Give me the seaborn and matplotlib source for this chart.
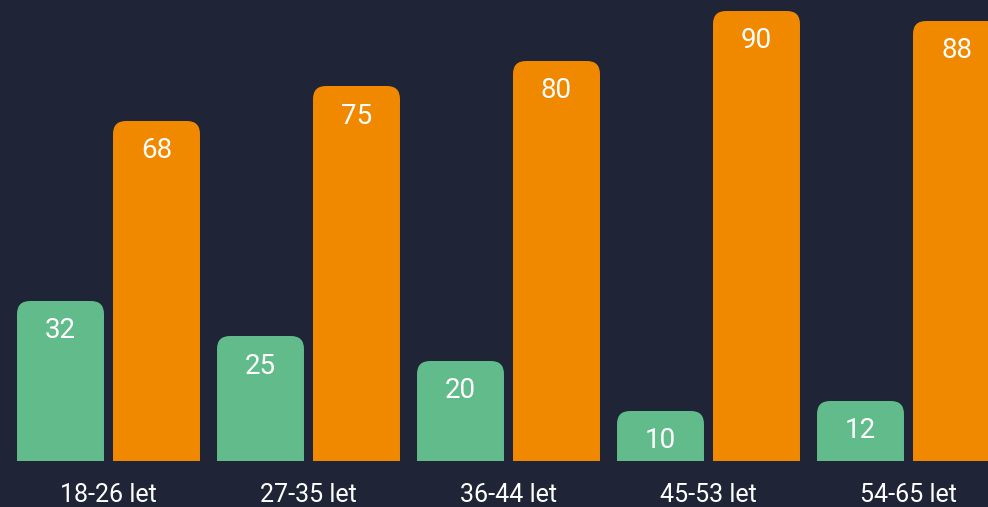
import pandas as pd
import matplotlib.pyplot as plt
from matplotlib.patches import FancyBboxPatch
import seaborn as sns

# data
kategorie = ["18-26 let", "27-35 let", "36-44 let", "45-53 let", "54-65 let"]
serie_a = [32, 25, 20, 10, 12]
serie_b = [68, 75, 80, 90, 88]
barvy = ["#62BB8A", "#F08800"]
pozadi = "#1F2536"

df = pd.DataFrame({
    "Vek": kategorie * 2,
    "Hodnota": serie_a + serie_b,
    "Serie": ["A"] * len(kategorie) + ["B"] * len(kategorie),
})

sns.set_theme(style="dark")
plt.rcParams["font.family"] = ["Roboto", "DejaVu Sans"]

fig = plt.figure(figsize=(9.88, 5.07), dpi=100, facecolor=pozadi)
ax = fig.add_axes([0, 46 / 507, 1, 461 / 507])
ax.set_facecolor(pozadi)

sns.barplot(data=df, x="Vek", y="Hodnota", hue="Serie", palette=barvy,
            saturation=1, width=0.96, gap=0.094, legend=False, ax=ax,
            errorbar=None)

ax.set_ylim(0, 92.2)
ax.set_xlim(-0.5425, 4.3975)

# zaoblene horni rohy
for p in list(ax.patches):
    x, w, h = p.get_x(), p.get_width(), p.get_height()
    c = p.get_facecolor()
    p.remove()
    box = FancyBboxPatch((x, -5), w, h + 5,
                         boxstyle="round,pad=0,rounding_size=0.065",
                         mutation_aspect=40, facecolor=c, edgecolor="none")
    ax.add_patch(box)
    ax.annotate(f"{h:.0f}", (x + w / 2, h), xytext=(0, -30),
                textcoords="offset pixels", ha="center", va="center",
                color="white", fontsize=20)

ax.set_xlabel("")
ax.set_ylabel("")
ax.set_yticks([])
ax.tick_params(axis="x", colors="white", labelsize=18, pad=16, length=0)
for s in ax.spines.values():
    s.set_visible(False)
ax.grid(False)

plt.savefig("out.png", dpi=100, facecolor=pozadi)
